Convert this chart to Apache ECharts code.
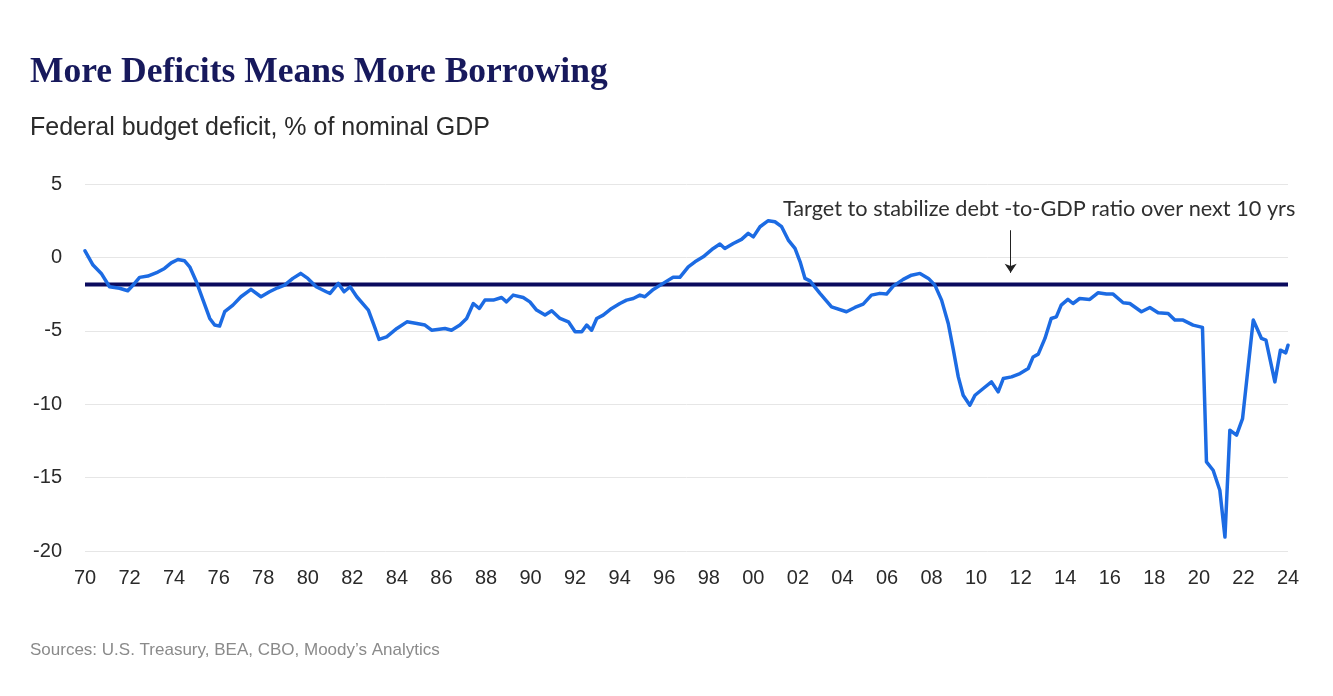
<!DOCTYPE html>
<html>
<head>
<meta charset="utf-8">
<script src="https://cdn.jsdelivr.net/npm/echarts@6/dist/echarts.min.js"></script>
<style>
html,body{margin:0;padding:0;background:#fff;}
#c{width:1333px;height:696px;}
</style>
</head>
<body>
<div id="c"></div>
<script>
// ---- data (decimal years, % of nominal GDP) ----
const years = [
 1970.0,1970.36,1970.73,1971.1,1971.55,1971.92,1972.15,1972.45,1972.82,1973.27,1973.57,1973.87,
 1974.17,1974.47,1974.7,1975.0,1975.3,1975.6,1975.82,1976.04,1976.27,1976.64,1977.0,1977.45,
 1977.9,1978.28,1978.65,1978.96,1979.33,1979.68,1980.0,1980.38,1980.83,1981.0,1981.37,1981.63,
 1981.9,1982.2,1982.72,1983.0,1983.2,1983.54,1984.0,1984.45,1984.9,1985.26,1985.56,1986.16,
 1986.45,1986.83,1987.13,1987.43,1987.7,1987.95,1988.33,1988.7,1988.92,1989.22,1989.67,1989.97,
 1990.27,1990.65,1990.95,1991.32,1991.7,1992.0,1992.3,1992.52,1992.74,1992.97,1993.26,1993.64,
 1994.01,1994.31,1994.61,1994.91,1995.13,1995.51,1995.95,1996.4,1996.7,1997.08,1997.38,1997.75,
 1998.2,1998.5,1998.72,1999.1,1999.47,1999.77,2000.0,2000.3,2000.67,2000.97,2001.27,2001.57,
 2001.87,2002.1,2002.32,2002.54,2002.99,2003.51,2004.18,2004.56,2004.93,2005.3,2005.68,2005.98,
 2006.28,2006.73,2007.1,2007.48,2007.86,2008.15,2008.45,2008.75,2008.98,2009.2,2009.42,2009.72,
 2009.95,2010.32,2010.69,2010.99,2011.22,2011.59,2011.97,2012.34,2012.56,2012.79,2013.09,2013.37,
 2013.6,2013.82,2014.12,2014.35,2014.65,2015.1,2015.47,2015.85,2016.15,2016.6,2016.9,2017.42,
 2017.8,2018.17,2018.62,2018.92,2019.29,2019.74,2020.16,2020.34,2020.64,2020.94,2021.17,2021.39,
 2021.69,2021.96,2022.44,2022.81,2023.01,2023.41,2023.66,2023.9,2024.0
];
const deficit = [
 0.45,-0.52,-1.09,-2.0,-2.1,-2.27,-1.9,-1.36,-1.27,-1.0,-0.75,-0.37,
 -0.14,-0.23,-0.64,-1.66,-2.91,-4.16,-4.61,-4.68,-3.7,-3.25,-2.68,-2.18,
 -2.68,-2.34,-2.07,-1.89,-1.43,-1.09,-1.43,-2.0,-2.34,-2.45,-1.77,-2.34,
 -2.0,-2.68,-3.59,-4.73,-5.59,-5.41,-4.84,-4.39,-4.5,-4.61,-4.96,-4.84,
 -4.96,-4.61,-4.16,-3.14,-3.48,-2.91,-2.91,-2.73,-3.03,-2.57,-2.73,-3.03,
 -3.59,-3.93,-3.64,-4.16,-4.39,-5.07,-5.07,-4.61,-4.96,-4.16,-3.93,-3.48,
 -3.14,-2.91,-2.8,-2.57,-2.68,-2.18,-1.77,-1.36,-1.36,-0.64,-0.3,0.04,
 0.61,0.91,0.61,0.95,1.23,1.64,1.4,2.09,2.5,2.43,2.09,1.18,
 0.61,-0.3,-1.43,-1.6,-2.45,-3.37,-3.7,-3.41,-3.18,-2.57,-2.45,-2.5,
 -1.96,-1.5,-1.21,-1.09,-1.43,-1.89,-2.91,-4.5,-6.32,-8.14,-9.39,-10.07,
 -9.39,-8.93,-8.48,-9.16,-8.25,-8.14,-7.91,-7.57,-6.78,-6.59,-5.52,-4.16,
 -4.05,-3.25,-2.86,-3.14,-2.8,-2.86,-2.41,-2.5,-2.5,-3.09,-3.14,-3.7,
 -3.41,-3.77,-3.82,-4.27,-4.27,-4.61,-4.77,-13.93,-14.5,-15.86,-19.05,-11.77,
 -12.11,-10.98,-4.27,-5.52,-5.64,-8.48,-6.32,-6.5,-5.98
];
const targetLevel = -1.85;
const xRange = [1970, 2024];
const yRange = [-20, 5];
const arrowX = 2011.55;
const arrowY = [1.85, -1.05];

const texts = {
  title: 'More Deficits Means More Borrowing',
  subtitle: 'Federal budget deficit, % of nominal GDP',
  note: 'Target to stabilize debt -to-GDP ratio over next 10 yrs',
  source: 'Sources: U.S. Treasury, BEA, CBO, Moody\u2019s Analytics'
};

const chart = echarts.init(document.getElementById('c'), null, {renderer:'canvas'});
chart.setOption({
  animation: false,
  backgroundColor: '#ffffff',
  title: [
    {text: texts.title, left: 30, top: 55, padding: 0,
     textStyle: {fontFamily: 'Liberation Serif', fontWeight: 'bold', fontSize: 35.5, color: '#17195c'}},
    {text: texts.subtitle, left: 30, top: 116, padding: 0,
     textStyle: {fontFamily: 'Liberation Sans', fontWeight: 'normal', fontSize: 25, color: '#2a2a2a'}},
    {text: texts.note, left: 783, top: 198, padding: 0,
     textStyle: {fontFamily: 'Lato', fontWeight: 'normal', fontSize: 21.7, color: '#2f2f2f'}},
    {text: texts.source, left: 30, top: 642, padding: 0,
     textStyle: {fontFamily: 'Liberation Sans', fontWeight: 'normal', fontSize: 17, color: '#8a8a8a'}}
  ],
  grid: {left: 85, right: 45, top: 184, bottom: 145, containLabel: false},
  xAxis: {
    type: 'value', min: xRange[0], max: xRange[1], interval: 2,
    axisLine: {show: false}, axisTick: {show: false}, splitLine: {show: false},
    axisLabel: {
      margin: 17, fontFamily: 'Liberation Sans', fontSize: 20, color: '#2a2a2a',
      formatter: v => String(Math.round(v) % 100).padStart(2, '0')
    }
  },
  yAxis: {
    type: 'value', min: yRange[0], max: yRange[1], interval: 5,
    axisLine: {show: false}, axisTick: {show: false},
    splitLine: {lineStyle: {color: '#e6e6e6', width: 1}},
    axisLabel: {margin: 23, fontFamily: 'Liberation Sans', fontSize: 20, color: '#2a2a2a'}
  },
  series: [
    {
      type: 'line', z: 1, silent: true, showSymbol: false,
      data: [[xRange[0], targetLevel], [xRange[1], targetLevel]],
      lineStyle: {color: '#0b0b5e', width: 4},
      markLine: {
        silent: true, symbolSize: 9,
        lineStyle: {color: '#222', width: 1, type: 'solid'},
        label: {show: false},
        data: [[
          {coord: [arrowX, arrowY[0]], symbol: 'none'},
          {coord: [arrowX, arrowY[1]], symbol: 'arrow'}
        ]]
      }
    },
    {
      type: 'line', z: 3, silent: true, showSymbol: false,
      data: years.map((y, i) => [y, deficit[i]]),
      lineStyle: {color: '#1c6be3', width: 3.5, join: 'round', cap: 'round'}
    }
  ]
});
</script>
</body>
</html>
